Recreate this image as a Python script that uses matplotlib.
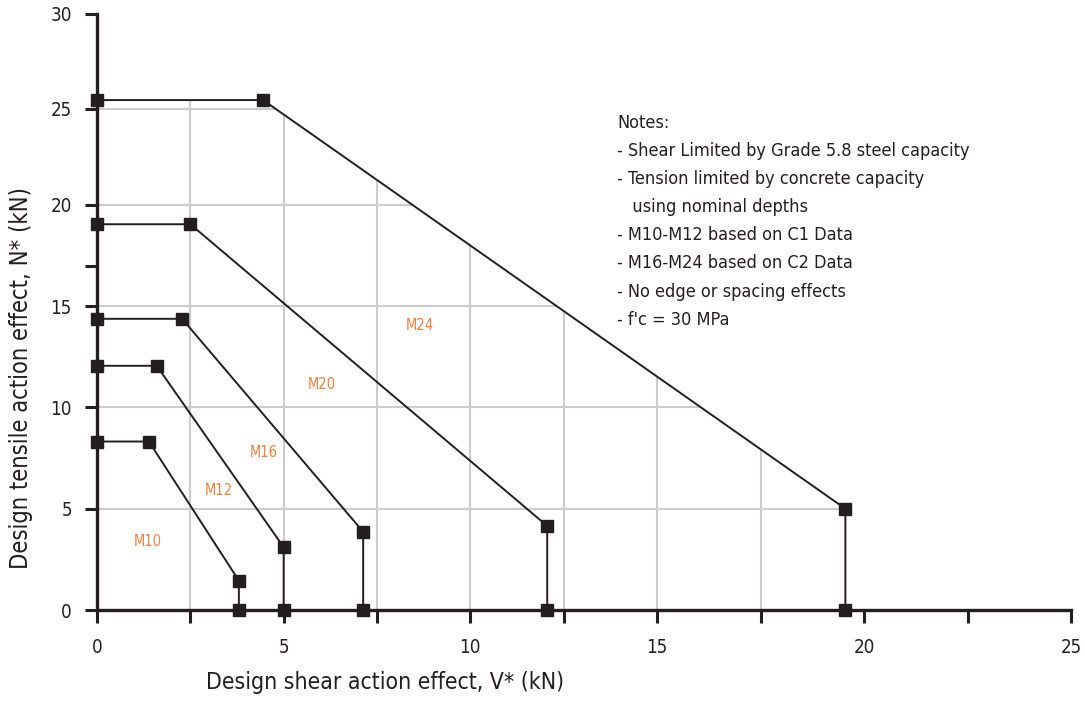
import numpy as np
import matplotlib
matplotlib.use('Agg')
import matplotlib.pyplot as plt
from matplotlib.patches import Polygon

plt.rcParams['font.family'] = ['DejaVu Sans']
plt.rcParams['font.stretch'] = 'condensed'

DARK = '#231F20'
ORANGE = '#F47E3E'
GRID = '#CCCCCC'

# shear (x) / tension (y) envelopes, kN
m10_x = [0, 1.39, 3.8, 3.8]
m10_y = [8.32, 8.32, 1.45, 0]
m12_x = [0, 1.6, 5.0, 5.0]
m12_y = [12.06, 12.06, 3.1, 0]
m16_x = [0, 2.28, 7.13, 7.13]
m16_y = [14.38, 14.38, 3.86, 0]
m20_x = [0, 2.5, 12.06, 12.06]
m20_y = [19.05, 19.05, 4.15, 0]
m24_x = [0, 4.45, 19.55, 19.55]
m24_y = [25.47, 25.47, 5.0, 0]

series = [m10_x, m12_x, m16_x, m20_x, m24_x]
series_y = [m10_y, m12_y, m16_y, m20_y, m24_y]

labels = ['M10', 'M12', 'M16', 'M20', 'M24']
label_x = [1.37, 3.27, 4.47, 6.03, 8.65]
label_y = [3.4, 5.9, 7.8, 11.15, 14.05]

notes = ['Notes:',
         '- Shear Limited by Grade 5.8 steel capacity',
         '- Tension limited by concrete capacity',
         '   using nominal depths',
         '- M10-M12 based on C1 Data',
         '- M16-M24 based on C2 Data',
         '- No edge or spacing effects',
         "- f'c = 30 MPa"]

x_major = [0, 5, 10, 15, 20, 25]
x_minor = [2.5, 7.5, 12.5, 17.5, 22.5]
y_major = [0, 5, 10, 15, 20, 25, 30]
y_minor = [17]
grid_x = [2.5, 5, 7.5, 10, 12.5, 15, 17.5]
grid_y = [5, 10, 15, 20, 25]


# the drawn axes are not quite linear: piecewise scales
def xf(v):
    v = np.asarray(v, dtype=float)
    return np.where(v <= 15, v * 37.333, 560 + (v - 15) * 41.4)


def xi(p):
    p = np.asarray(p, dtype=float)
    return np.where(p <= 560, p / 37.333, 15 + (p - 560) / 41.4)


def yf(v):
    v = np.asarray(v, dtype=float)
    return np.where(v <= 20, v * 20.25,
                    np.where(v <= 25, 405 + (v - 20) * 19.2, 501 + (v - 25) * 19.0))


def yi(p):
    p = np.asarray(p, dtype=float)
    return np.where(p <= 405, p / 20.25,
                    np.where(p <= 501, 20 + (p - 405) / 19.2, 25 + (p - 501) / 19.0))


fig = plt.figure(figsize=(10.85, 7.02), dpi=100)
ax = fig.add_axes([97 / 1085, 1 - 610 / 702, 974 / 1085, 596 / 702])
ax.set_xscale('function', functions=(xf, xi))
ax.set_yscale('function', functions=(yf, yi))
ax.set_xlim(0, 25)
ax.set_ylim(0, 30)

# grid only inside the M24 envelope
env = Polygon(list(zip(m24_x, m24_y)) + [(0, 0)], closed=True,
              transform=ax.transData, facecolor='none', edgecolor='none')
vl = ax.vlines(grid_x, 0, 30, colors=GRID, linewidth=1.5, zorder=1)
hl = ax.hlines(grid_y, 0, 25, colors=GRID, linewidth=1.5, zorder=1)
vl.set_clip_path(env)
hl.set_clip_path(env)

for xs, ys in zip(series, series_y):
    ax.plot(xs, ys, color=DARK, linewidth=1.4, marker='s', markersize=8.5,
            markerfacecolor=DARK, markeredgecolor=DARK, zorder=3, clip_on=False)

for t, x, y in zip(labels, label_x, label_y):
    ax.text(x, y, t, color=ORANGE, fontsize=10.5, ha='center', va='center')

for i, line in enumerate(notes):
    fig.text(617 / 1085, 1 - (123 + 28.1 * i) / 702, line, fontsize=13,
             color=DARK, ha='left', va='center')

for s in ['top', 'right']:
    ax.spines[s].set_visible(False)
for s in ['left', 'bottom']:
    ax.spines[s].set_linewidth(2.4)
    ax.spines[s].set_color(DARK)
    ax.spines[s].set_zorder(2)

ax.set_xticks(x_major)
ax.set_xticks(x_minor, minor=True)
ax.set_yticks(y_major)
ax.set_yticks(y_minor, minor=True)
ax.tick_params(axis='both', which='both', direction='out', length=9, width=2.2,
               color=DARK, labelcolor=DARK, labelsize=13.5)
ax.tick_params(axis='x', which='both', pad=11)
ax.tick_params(axis='y', which='both', pad=9)

ax.set_xlabel('Design shear action effect, V* (kN)', fontsize=16.5, color=DARK)
ax.set_ylabel('Design tensile action effect, N* (kN)', fontsize=17, color=DARK)
ax.xaxis.set_label_coords(0.296, -0.102)
ax.yaxis.set_label_coords(-0.066, 0.39)

fig.savefig('out.png', dpi=100)
